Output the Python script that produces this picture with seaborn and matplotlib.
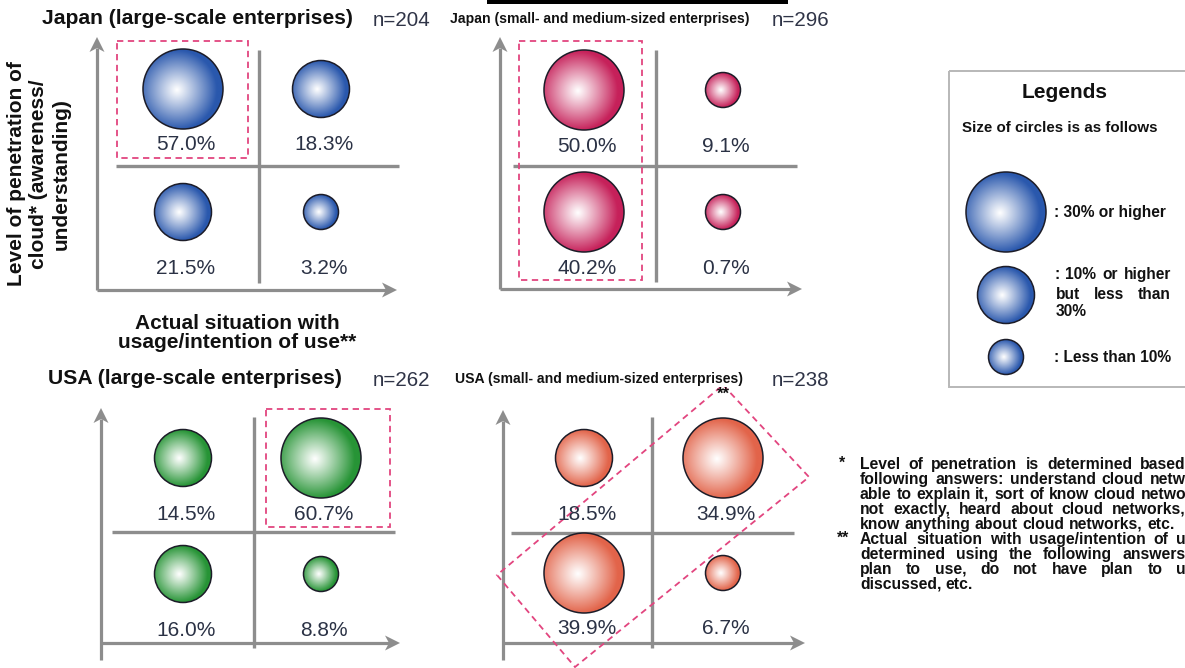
import numpy as np
import pandas as pd
import matplotlib
matplotlib.use("Agg")
import matplotlib.pyplot as plt
import matplotlib.colors as mcolors
import matplotlib.transforms as mtransforms
from matplotlib.patches import Circle, Rectangle, Polygon
from matplotlib import font_manager
import seaborn as sns

# ---------------------------------------------------------------- data
panel_titles = [
    "Japan (large-scale enterprises)",
    "Japan (small- and medium-sized enterprises)",
    "USA (large-scale enterprises)",
    "USA (small- and medium-sized enterprises)",
]
panel_n = [204, 296, 262, 238]

# quadrant order: top-left, top-right, bottom-left, bottom-right
usage_level = [0, 1, 0, 1]          # x: actual usage / intention of use
penetration_level = [1, 1, 0, 0]    # y: level of penetration of cloud
jp_large_pct = [57.0, 18.3, 21.5, 3.2]
jp_sme_pct = [50.0, 9.1, 40.2, 0.7]
us_large_pct = [14.5, 60.7, 16.0, 8.8]
us_sme_pct = [18.5, 34.9, 39.9, 6.7]
panel_values = [jp_large_pct, jp_sme_pct, us_large_pct, us_sme_pct]

size_bands = ["large", "medium", "small"]
band_thresholds = [30, 10]          # >=30 large, >=10 medium, else small
legend_labels = [": 30% or higher", ": 10% or higher", ": Less than 10%"]

y_label = "Level of penetration of\ncloud* (awareness/\nunderstanding)"
x_label = "Actual situation with\nusage/intention of use**"
note1_lines = [
    "Level of penetration is determined based",
    "following answers: understand cloud netw",
    "able to explain it, sort of know cloud netwo",
    "not exactly, heard about cloud networks,",
    "know anything about cloud networks, etc.",
]
note2_lines = [
    "Actual situation with usage/intention of u",
    "determined using the following answers",
    "plan to use, do not have plan to u",
    "discussed, etc.",
]

# ---------------------------------------------------------------- style
W, H, DPI = 1185, 668, 100
band_radius_px = {"large": 40, "medium": 28.5, "small": 17.5}
panel_colors = ["#2a58ad", "#c6215a", "#279436", "#e2644a"]
legend_color = "#2a58ad"
GRAY = "#8d8d8d"
PINK = "#e2457f"
OUTLINE = "#1c1c28"
VALUE_COLOR = "#2b3245"
INK = "#111111"

sns.set_theme(style="white")
plt.rcParams["font.family"] = ["Liberation Sans", "DejaVu Sans"]


def has_font(name):
    try:
        font_manager.findfont(font_manager.FontProperties(family=name),
                              fallback_to_default=False)
        return True
    except ValueError:
        return False


NARROW = "Liberation Sans Narrow" if has_font("Liberation Sans Narrow") else None


def band_of(v):
    if v >= band_thresholds[0]:
        return "large"
    if v >= band_thresholds[1]:
        return "medium"
    return "small"


fig = plt.figure(figsize=(W / DPI, H / DPI), dpi=DPI)
fig.patch.set_facecolor("white")

bg = fig.add_axes([0, 0, 1, 1])
bg.set_xlim(0, W)
bg.set_ylim(H, 0)
bg.set_autoscale_on(False)
bg.axis("off")


def ball_image(color, n=201):
    rgb = np.array(mcolors.to_rgb(color))
    yy, xx = np.mgrid[-1:1:n * 1j, -1:1:n * 1j]
    d = np.hypot(xx + 0.15, yy + 0.02) / 1.0
    f = np.clip(d, 0, 1) ** 1.05
    img = 1 - (1 - rgb)[None, None, :] * f[..., None]
    return np.clip(img, 0, 1)


def draw_ball(ax, x, y, r_px, color):
    r_in = r_px / DPI
    trans = fig.dpi_scale_trans + mtransforms.ScaledTranslation(x, y, ax.transData)
    im = ax.imshow(ball_image(color), extent=(-r_in, r_in, -r_in, r_in),
                   origin="lower", transform=trans, interpolation="bilinear",
                   aspect="auto", zorder=2)
    im.set_clip_path(Circle((0, 0), r_in, transform=trans))


def outline_sizes():
    return {b: (2 * band_radius_px[b] * 72 / DPI) ** 2 for b in size_bands}


def draw_outlines(ax, df):
    sns.scatterplot(data=df, x="usage", y="penetration", size="band",
                    sizes=outline_sizes(), size_order=size_bands,
                    facecolor="none", edgecolor=OUTLINE, linewidth=1.1,
                    legend=False, ax=ax, zorder=3)
    ax.set_xlabel("")
    ax.set_ylabel("")


def arrow(x0, y0, x1, y1, lw=2.3, L=15, hw=7.5, nd=4):
    p0, p1 = np.array([x0, y0], float), np.array([x1, y1], float)
    u = (p1 - p0) / np.linalg.norm(p1 - p0)
    nrm = np.array([-u[1], u[0]])
    base = p1 - u * L
    notch = p1 - u * (L - nd)
    bg.plot([p0[0], notch[0]], [p0[1], notch[1]], color=GRAY, lw=lw,
            solid_capstyle="butt", zorder=1)
    bg.add_patch(Polygon([p1, base + nrm * hw, notch, base - nrm * hw],
                         closed=True, fc=GRAY, ec="none", zorder=1))


def justify(words_line, x0, x1, y, size, weight="bold", justify_line=True):
    """Draw one line word by word on a common baseline, spread to [x0, x1]."""
    words = words_line.split()
    r = fig.canvas.get_renderer()
    base_y = y + size * 0.36 * DPI / 72
    texts = [bg.text(0, base_y, w, fontsize=size, fontweight=weight, ha="left",
                     va="baseline", color=INK) for w in words]
    widths = [t.get_window_extent(r).width for t in texts]
    if justify_line and len(words) > 1:
        gap = (x1 - x0 - sum(widths)) / (len(words) - 1)
    else:
        sp = bg.text(0, 0, "a a", fontsize=size, fontweight=weight)
        sp2 = bg.text(0, 0, "aa", fontsize=size, fontweight=weight)
        gap = sp.get_window_extent(r).width - sp2.get_window_extent(r).width
        sp.remove()
        sp2.remove()
    x = x0
    for t, w in zip(texts, widths):
        t.set_x(x)
        x += w + gap


# ---------------------------------------------------------------- panel layout (pixels)
layout = [
    dict(title_xy=(42, 19), n_xy=(373, 21), cols=(183, 321), rows=(89, 212),
         yaxis=(97, 290, 37), xaxis=(290, 97, 397), hdiv=(166, 116, 399),
         vdiv=(259, 50, 283), box=[(117, 41), (248, 41), (248, 158), (117, 158)]),
    dict(title_xy=(450, 19), n_xy=(772, 21), cols=(584, 723), rows=(90, 212),
         yaxis=(500, 289, 37), xaxis=(289, 500, 802), hdiv=(166, 513, 797),
         vdiv=(656, 50, 282), box=[(519, 41), (642, 41), (642, 280), (519, 280)]),
    dict(title_xy=(48, 379), n_xy=(373, 381), cols=(183, 321), rows=(458, 574),
         yaxis=(101, 660, 408), xaxis=(643, 101, 400), hdiv=(532, 112, 395),
         vdiv=(254, 417, 648), box=[(266, 409), (390, 409), (390, 527), (266, 527)]),
    dict(title_xy=(455, 379), n_xy=(772, 381), cols=(584, 723), rows=(458, 573),
         yaxis=(503, 660, 410), xaxis=(643, 503, 805), hdiv=(533, 511, 794),
         vdiv=(652, 417, 648), box=[(723, 385), (809, 477), (575, 667), (497, 575)]),
]


def add_panel_axes(cols, rows, pad_x=110, pad_y=75):
    x0, x1 = cols[0] - pad_x, cols[1] + pad_x
    y0, y1 = rows[0] - pad_y, rows[1] + pad_y
    ax = fig.add_axes([x0 / W, 1 - y1 / H, (x1 - x0) / W, (y1 - y0) / H])
    ax.patch.set_alpha(0)
    sx, sy = cols[1] - cols[0], rows[1] - rows[0]
    ax.set_xlim((x0 - cols[0]) / sx, (x1 - cols[0]) / sx)
    ax.set_ylim((rows[1] - y1) / sy, (rows[1] - y0) / sy)
    ax.set_autoscale_on(False)
    ax.axis("off")
    return ax


for i, (title, n, vals, color, lay) in enumerate(
        zip(panel_titles, panel_n, panel_values, panel_colors, layout)):
    # axes arrows and quadrant dividers
    yx, yb, yt = lay["yaxis"]
    arrow(yx, yb, yx, yt)
    xy_, xl, xr = lay["xaxis"]
    arrow(xl, xy_, xr, xy_)
    hy, hl, hr = lay["hdiv"]
    bg.plot([hl, hr], [hy, hy], color=GRAY, lw=2.4, solid_capstyle="butt", zorder=1)
    vx, vt, vb = lay["vdiv"]
    bg.plot([vx, vx], [vt, vb], color=GRAY, lw=2.4, solid_capstyle="butt", zorder=1)
    # highlighted cells
    bg.add_patch(Polygon(lay["box"], closed=True, fill=False, ec=PINK, lw=1.3,
                         ls=(0, (3.5, 2.5)), zorder=4))

    # titles
    tx, ty = lay["title_xy"]
    if "small-" in title:
        fam = NARROW if NARROW else "Liberation Sans"
        size = 13 if NARROW else 10.1
        bg.text(tx, ty, title, fontsize=size, fontweight="bold", family=fam,
                ha="left", va="center", color=INK, zorder=6,
                bbox=dict(fc="white", ec="none", pad=1))
    else:
        bg.text(tx, ty, title, fontsize=15.2, fontweight="bold", ha="left",
                va="center", color=INK)
    bg.text(*lay["n_xy"], f"n={n}", fontsize=14.8, ha="left", va="center",
            color="#2f3447")

    # circles and values
    ax = add_panel_axes(lay["cols"], lay["rows"])
    df = pd.DataFrame({"usage": usage_level, "penetration": penetration_level,
                       "pct": vals, "band": [band_of(v) for v in vals]})
    for _, row in df.iterrows():
        draw_ball(ax, row.usage, row.penetration, band_radius_px[row.band], color)
        ax.annotate(f"{row.pct:.1f}%", xy=(row.usage, row.penetration),
                    xytext=(2, -56 * 72 / DPI), textcoords="offset points",
                    ha="center", va="center", fontsize=15, color=VALUE_COLOR)
    draw_outlines(ax, df)

# stray asterisks under the last title
bg.text(723, 394, "**", fontsize=12, fontweight="bold", ha="center",
        va="center", color=INK, zorder=5)
# black rule at the top edge
bg.add_patch(Rectangle((487, 0), 301, 3.5, fc="black", ec="none", zorder=6))

# axis titles of the first panel
bg.text(39, 174, y_label, rotation=90, fontsize=15, fontweight="bold",
        ha="center", va="center", multialignment="center", linespacing=1.25,
        color=INK)
bg.text(237, 333, x_label, fontsize=15, fontweight="bold", ha="center",
        va="center", multialignment="center", linespacing=1.05, color=INK)

# ---------------------------------------------------------------- legend
bg.add_patch(Rectangle((949, 71), 260, 316, fill=False, ec="#b8b8b8", lw=1.4,
                       zorder=1))
bg.text(1065, 92, "Legends", fontsize=15, fontweight="bold", ha="center",
        va="center", color=INK)
bg.text(1060, 128, "Size of circles is as follows", fontsize=10.9,
        fontweight="bold", ha="center", va="center", color=INK)
legend_y = [212, 295, 357]
leg = pd.DataFrame({"usage": [1006] * 3, "penetration": legend_y,
                    "band": size_bands})
for _, row in leg.iterrows():
    draw_ball(bg, row.usage, row.penetration, band_radius_px[row.band], legend_color)
draw_outlines(bg, leg)
bg.set_xlim(0, W)
bg.set_ylim(H, 0)
bg.axis("off")
LEG_FS = 11.2
bg.text(1054, 212, legend_labels[0], fontsize=LEG_FS, fontweight="bold",
        ha="left", va="center", color=INK)
justify(legend_labels[1], 1054, 1171, 273, LEG_FS)
justify("but less than", 1056, 1171, 293, LEG_FS)
bg.text(1056, 312, "30%", fontsize=LEG_FS, fontweight="bold", ha="left",
        va="center", color=INK)
bg.text(1054, 357, legend_labels[2], fontsize=LEG_FS, fontweight="bold",
        ha="left", va="center", color=INK)

# ---------------------------------------------------------------- footnotes
NOTE_FS = 11.3
note_y0, note_dy = 463, 15
bg.text(842, note_y0, "*", fontsize=NOTE_FS, fontweight="bold", ha="center",
        va="center", color=INK)
bg.text(843, note_y0 + note_dy * len(note1_lines), "**", fontsize=NOTE_FS,
        fontweight="bold", ha="center", va="center", color=INK)
for j, line in enumerate(note1_lines + note2_lines):
    last = (j == len(note1_lines) - 1) or (j == len(note1_lines) + len(note2_lines) - 1)
    justify(line, 860, 1186, note_y0 + note_dy * j, NOTE_FS, justify_line=not last)

fig.savefig("out.png", dpi=DPI, facecolor="white")
